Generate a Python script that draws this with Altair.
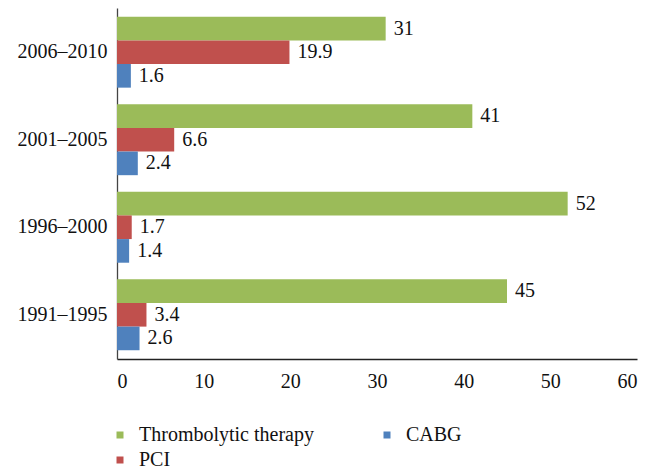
import altair as alt
import pandas as pd

periods = ["2006–2010", "2001–2005", "1996–2000", "1991–1995"]
series = ["Thrombolytic therapy", "PCI", "CABG"]
thrombolytic = [31, 41, 52, 45]
pci = [19.9, 6.6, 1.7, 3.4]
cabg = [1.6, 2.4, 1.4, 2.6]
colors = ["#9BBB59", "#C0504D", "#4F81BD"]
x_ticks = [0, 10, 20, 30, 40, 50, 60]

rows = []
for vals, s in zip([thrombolytic, pci, cabg], series):
    for p, v in zip(periods, vals):
        rows.append({"period": p, "series": s, "value": v, "label": f"{v:g}"})
df = pd.DataFrame(rows)

FONT = "Liberation Serif"
FS = 20

y_enc = alt.Y("period:N", sort=periods, title=None,
              scale=alt.Scale(paddingInner=0.19, paddingOuter=0.1),
              axis=alt.Axis(ticks=False, labelPadding=10, labelFontSize=FS,
                            labelFont=FONT, labelColor="#111111",
                            domainColor="#444444", domainWidth=1.3))
yoff = alt.YOffset("series:N", sort=series, scale=alt.Scale(domain=series))

base = alt.Chart(df)

bars = base.mark_bar().encode(
    x=alt.X("value:Q", title=None,
            scale=alt.Scale(domain=[0, 60], nice=False),
            axis=alt.Axis(values=x_ticks, ticks=False, grid=False, labelPadding=12,
                          labelFontSize=FS, labelFont=FONT, labelColor="#111111",
                          domainColor="#222222", domainWidth=1.3)),
    y=y_enc,
    yOffset=yoff,
    color=alt.Color("series:N",
                    scale=alt.Scale(domain=series, range=colors),
                    legend=alt.Legend(title=None, orient="none", legendX=-7, legendY=417,
                                      columns=2, columnPadding=63, rowPadding=5,
                                      symbolType="square", symbolSize=49,
                                      symbolStrokeWidth=0, labelOffset=9,
                                      labelLimit=400,
                                      labelFontSize=FS, labelFont=FONT,
                                      labelColor="#111111", padding=0)),
)

labels = base.mark_text(align="left", baseline="middle", dx=8, fontSize=FS,
                        font=FONT, color="#111111").encode(
    x="value:Q",
    y=alt.Y("period:N", sort=periods),
    yOffset=yoff,
    text="label:N",
)

chart = (bars + labels).properties(
    width=520, height=351,
    padding={"left": 109, "top": 0, "right": 15, "bottom": 112},
    autosize=alt.AutoSizeParams(type="none"),
).configure_view(stroke=None)

chart.save("out.html", embed_options={"renderer": "svg", "actions": False})
